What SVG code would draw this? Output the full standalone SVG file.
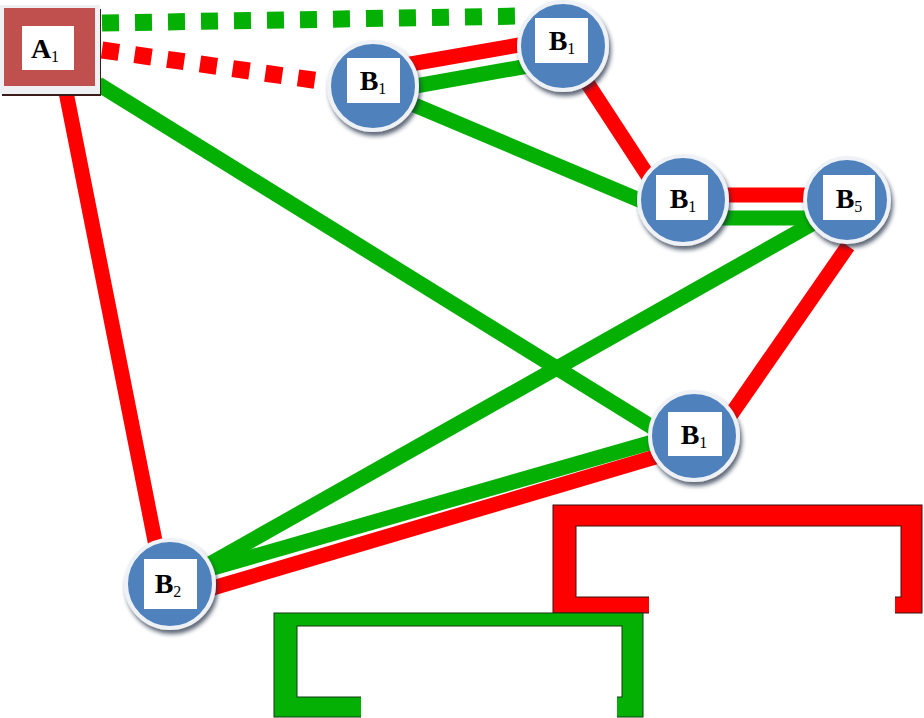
<svg xmlns="http://www.w3.org/2000/svg" width="924" height="718" viewBox="0 0 924 718">
<defs>
<filter id="sh" x="-20%" y="-20%" width="150%" height="150%">
<feDropShadow dx="2" dy="4" stdDeviation="2" flood-color="#1a2a40" flood-opacity="0.7"/>
</filter>
<style>
.r{stroke:#FF0000;stroke-width:15;fill:none}
.g{stroke:#05B005;stroke-width:15;fill:none}
.d{stroke-dasharray:17 16;stroke-width:17}
.c{fill:#4F81BD;stroke:#EEF1F6;stroke-width:4;filter:url(#sh)}
.lb{fill:#FFFFFF}
.t{font-family:"Liberation Serif","Times New Roman",serif;font-weight:bold;font-size:28px;fill:#000;text-anchor:middle}
.s{font-size:16px;font-weight:normal}
</style>
</defs>
<rect width="924" height="718" fill="#FFFFFF"/>
<g id="connectors">
<line class="g d" x1="102" y1="23" x2="522" y2="16"/>
<line class="r d" x1="102" y1="50" x2="334" y2="83"/>
<line class="r" x1="66" y1="92" x2="156" y2="546"/>
<line class="g" x1="98" y1="84" x2="660" y2="432"/>
<line class="r" x1="405" y1="65" x2="525" y2="44"/>
<line class="g" x1="410" y1="87" x2="528" y2="66"/>
<line class="g" x1="412" y1="104" x2="644" y2="202"/>
<line class="r" x1="588" y1="84" x2="652" y2="182"/>
<line class="r" x1="720" y1="195" x2="812" y2="195"/>
<line class="g" x1="720" y1="218" x2="812" y2="218"/>
<line class="g" x1="812" y1="224" x2="206" y2="566"/>
<line class="r" x1="848" y1="246" x2="730" y2="416"/>
<line class="g" x1="656" y1="441" x2="206" y2="570"/>
<line class="r" x1="662" y1="455" x2="206" y2="590"/>
</g>
<g id="A1">
<rect x="2" y="9" width="99" height="87" fill="#3A1C1C"/>
<rect x="0" y="5" width="100" height="89" fill="#EEF0F4"/>
<rect x="4" y="8" width="91" height="78" fill="#C0504D"/>
<rect x="22" y="26" width="52" height="44" class="lb"/>
<text x="45" y="58" class="t">A<tspan class="s" dy="4">1</tspan></text>
</g>
<g id="B1a">
<circle cx="373" cy="86" r="44" class="c"/>
<rect x="347" y="58" width="53" height="45" class="lb"/>
<text x="373" y="90" class="t">B<tspan class="s" dy="4">1</tspan></text>
</g>
<g id="B1b">
<circle cx="563" cy="46" r="44" class="c"/>
<rect x="535" y="18" width="53" height="45" class="lb"/>
<text x="562" y="50" class="t">B<tspan class="s" dy="4">1</tspan></text>
</g>
<g id="B1c">
<circle cx="683" cy="200" r="44" class="c"/>
<rect x="656" y="175" width="52" height="45" class="lb"/>
<text x="683" y="208" class="t">B<tspan class="s" dy="4">1</tspan></text>
</g>
<g id="B5">
<circle cx="847" cy="200" r="42" class="c"/>
<rect x="823" y="175" width="52" height="45" class="lb"/>
<text x="849" y="208" class="t">B<tspan class="s" dy="4">5</tspan></text>
</g>
<g id="B1d">
<circle cx="694" cy="436" r="44" class="c"/>
<rect x="668" y="412" width="54" height="44" class="lb"/>
<text x="694" y="444" class="t">B<tspan class="s" dy="4">1</tspan></text>
</g>
<g id="B2">
<circle cx="170" cy="584" r="44" class="c"/>
<rect x="144" y="559" width="53" height="50" class="lb"/>
<text x="168" y="593" class="t">B<tspan class="s" dy="4">2</tspan></text>
</g>
<g id="legend-red">
<rect x="553" y="505" width="369" height="108" fill="#FF0000" stroke="#3a1010" stroke-width="1"/>
<rect x="576" y="526" width="325" height="71" fill="#FFFFFF" stroke="#3a1010" stroke-width="1"/>
<rect x="649" y="596" width="246" height="18" fill="#FFFFFF"/>
</g>
<g id="legend-green">
<rect x="274" y="613" width="369" height="104" fill="#05B005" stroke="#103a10" stroke-width="1"/>
<rect x="297" y="626" width="325" height="71" fill="#FFFFFF" stroke="#103a10" stroke-width="1"/>
<rect x="361" y="696" width="256" height="22" fill="#FFFFFF"/>
</g>
</svg>
